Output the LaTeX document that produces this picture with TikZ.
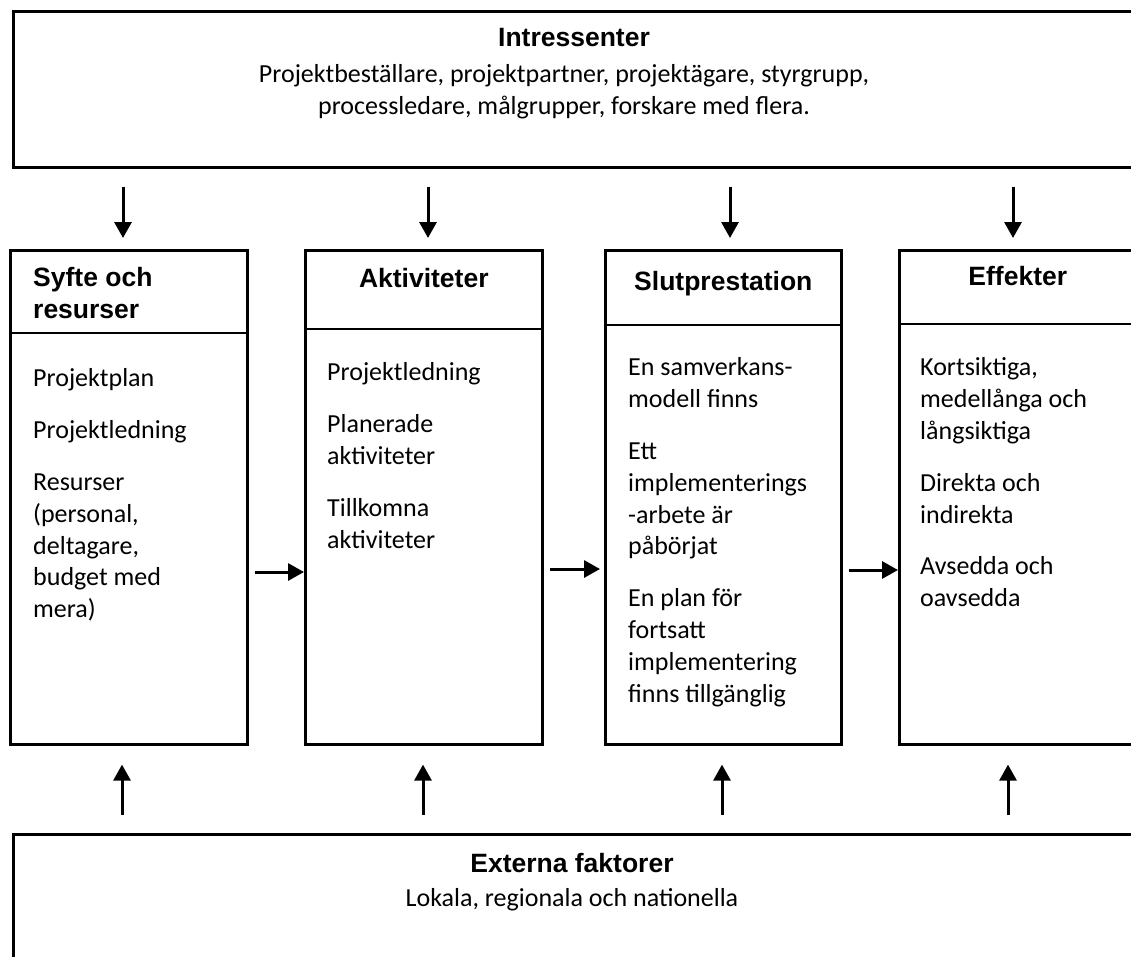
\documentclass[tikz,border=0pt]{standalone}
\usepackage{fontspec}
\setmainfont{Carlito}
\newfontfamily\headfont{Liberation Sans}
\usetikzlibrary{arrows.meta}

\tikzset{
    box/.style={draw, line width=2.6pt, minimum width=237pt, inner sep=0pt, anchor=north west},
    headtxt/.style={font=\headfont\bfseries\fontsize{26.5}{32}\selectfont, anchor=base, inner sep=0pt},
    bodytxt/.style={font=\fontsize{26}{31.8}\selectfont, align=left, anchor=north west, inner sep=0pt,
        execute at begin node=\strut},
    pil/.style={-{Triangle[length=16pt,width=17pt]}, line width=3pt}
}

\begin{document}
\begin{tikzpicture}[x=1pt,y=-1pt]
    \useasboundingbox (0,0) rectangle (1131,956);
    \clip (0,0) rectangle (1131,956);

    % top and bottom boxes
    \node[box, minimum width=1160pt, minimum height=156pt] (intr) at (12,10) {};
    \node[headtxt] (intr-head) at (574,46) {Intressenter};
    \node[bodytxt, anchor=north, align=center] (intr-txt) at (564,64)
        {Projektbeställare, projektpartner, projektägare, styrgrupp,\\processledare, målgrupper, forskare med flera.};

    \node[box, minimum width=1160pt, minimum height=200pt] (ext) at (12,833) {};
    \node[headtxt] (ext-head) at (572,872) {Externa faktorer};
    \node[bodytxt, anchor=north] (ext-txt) at (572,884) {Lokala, regionala och nationella};

    % the four columns
    \node[box, minimum height=494pt] (syfte) at (9,249) {};
    \node[box, minimum height=494pt] (aktiv) at (304,249) {};
    \node[box, minimum width=236pt, minimum height=494pt] (slut) at (604,249) {};
    \node[box, minimum height=494pt] (effekt) at (898,249) {};

    \draw[line width=2.6pt] (syfte.west |- 0,333) -- (syfte.east |- 0,333);
    \draw[line width=2.6pt] (aktiv.west |- 0,329) -- (aktiv.east |- 0,329);
    \draw[line width=2.6pt] (slut.west |- 0,325) -- (slut.east |- 0,325);
    \draw[line width=2.6pt] (effekt.west |- 0,324) -- (effekt.east |- 0,324);

    \node[headtxt, anchor=north west, align=left, execute at begin node=\strut] (syfte-head) at (33,266.6) {Syfte och\\resurser};
    \node[headtxt] (aktiv-head) at (aktiv.north |- 0,287) {Aktiviteter};
    \node[headtxt] (slut-head) at (slut.north |- 0,290) {Slutprestation};
    \node[headtxt] (effekt-head) at (effekt.north |- 0,285) {Effekter};

    \node[bodytxt] (syfte-txt) at (33,368.7)
        {Projektplan\\[20pt]Projektledning\\[20pt]Resurser\\(personal,\\deltagare,\\budget med\\mera)};
    \node[bodytxt] (aktiv-txt) at (327,362.7)
        {Projektledning\\[20pt]Planerade\\aktiviteter\\[20pt]Tillkomna\\aktiviteter};
    \node[bodytxt] (slut-txt) at (628,357.7)
        {En samverkans-\\modell finns\\[20pt]Ett\\implementerings\\-arbete är\\påbörjat\\[20pt]En plan för\\fortsatt\\implementering\\finns tillgänglig};
    \node[bodytxt] (effekt-txt) at (920,357.7)
        {Kortsiktiga,\\medellånga och\\långsiktiga\\[20pt]Direkta och\\indirekta\\[20pt]Avsedda och\\oavsedda};

    % arrows
    \draw[pil, shorten <=18pt, shorten >=11pt] (intr.south -| 123,0) -- (syfte.north -| 123,0);
    \draw[pil, shorten <=18pt, shorten >=11pt] (intr.south -| 428,0) -- (aktiv.north -| 428,0);
    \draw[pil, shorten <=18pt, shorten >=11pt] (intr.south -| 730,0) -- (slut.north -| 730,0);
    \draw[pil, shorten <=18pt, shorten >=11pt] (intr.south -| 1013,0) -- (effekt.north -| 1013,0);

    \draw[pil, shorten <=18pt, shorten >=19pt] (ext.north -| 122,0) -- (syfte.south -| 122,0);
    \draw[pil, shorten <=18pt, shorten >=19pt] (ext.north -| 423,0) -- (aktiv.south -| 423,0);
    \draw[pil, shorten <=18pt, shorten >=19pt] (ext.north -| 722,0) -- (slut.south -| 722,0);
    \draw[pil, shorten <=18pt, shorten >=19pt] (ext.north -| 1008,0) -- (effekt.south -| 1008,0);

    \draw[pil, shorten <=6pt] (syfte.east |- 0,572) -- (aktiv.west |- 0,572);
    \draw[pil, shorten <=6pt, shorten >=4pt] (aktiv.east |- 0,569) -- (slut.west |- 0,569);
    \draw[pil, shorten <=6pt] (slut.east |- 0,570) -- (effekt.west |- 0,570);
\end{tikzpicture}
\end{document}
